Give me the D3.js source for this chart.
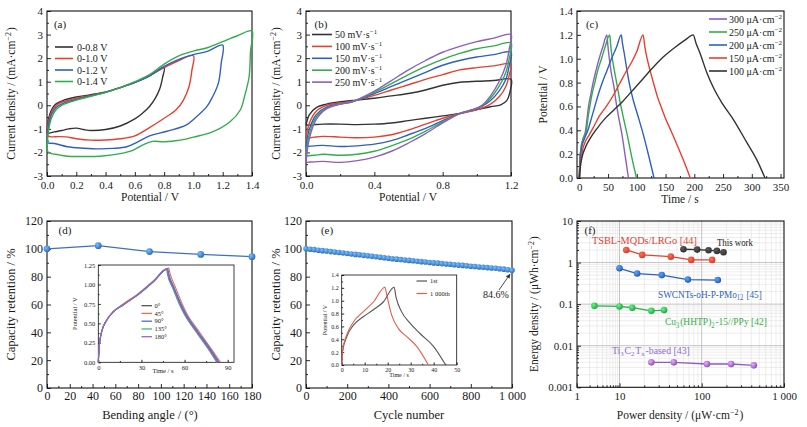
<!DOCTYPE html>
<html>
<head>
<meta charset="utf-8">
<script src="https://cdnjs.cloudflare.com/ajax/libs/d3/7.8.5/d3.min.js"></script>
<style>
  body { margin: 0; background: #fff; }
  text { font-family: "Liberation Serif", "Times New Roman", serif; }
</style>
</head>
<body>
<svg width="807" height="427" id="mainsvg"></svg>
<script>
// ---------- (a) CV at different windows, [V, mA/cm2] ----------
const windowNames = ['0-0.8 V', '0-1.0 V', '0-1.2 V', '0-1.4 V'];
const cv08 = [[0,-1.2],[0.01,-0.6],[0.03,-0.2],[0.06,0.05],[0.1,0.18],[0.2,0.35],[0.3,0.45],[0.4,0.57],[0.5,0.75],[0.6,0.97],[0.7,1.25],[0.8,1.6],
  [0.79,1.2],[0.77,0.7],[0.74,0.3],[0.7,-0.05],[0.65,-0.35],[0.6,-0.58],[0.5,-0.88],[0.4,-1.03],[0.3,-1.07],[0.25,-1.03],[0.2,-0.97],[0.15,-1.0],[0.1,-1.07],[0.05,-1.13],[0,-1.2]];
const cv10 = [[0,-1.3],[0.01,-0.7],[0.03,-0.3],[0.06,-0.02],[0.1,0.12],[0.2,0.3],[0.3,0.42],[0.4,0.55],[0.5,0.75],[0.6,0.97],[0.7,1.25],[0.8,1.6],[0.9,1.9],[1.0,2.1],
  [0.99,1.5],[0.97,0.8],[0.93,0.2],[0.88,-0.2],[0.8,-0.55],[0.7,-0.95],[0.6,-1.3],[0.5,-1.42],[0.4,-1.47],[0.3,-1.48],[0.2,-1.42],[0.13,-1.34],[0.08,-1.33],[0.03,-1.34],[0,-1.3]];
const cv12 = [[0,-1.6],[0.01,-0.9],[0.03,-0.4],[0.06,-0.1],[0.1,0.05],[0.2,0.25],[0.3,0.4],[0.4,0.55],[0.5,0.75],[0.6,0.97],[0.7,1.25],[0.8,1.65],[0.9,1.95],[1.0,2.15],[1.1,2.3],[1.2,2.55],
  [1.19,1.8],[1.17,0.93],[1.13,0.35],[1.09,-0.07],[1.0,-0.6],[0.95,-0.84],[0.82,-1.1],[0.7,-1.3],[0.62,-1.55],[0.545,-1.76],[0.45,-1.83],[0.36,-1.85],[0.25,-1.82],[0.14,-1.76],[0.05,-1.62],[0,-1.6]];
const cv14 = [[0,-1.95],[0.01,-1.1],[0.03,-0.55],[0.06,-0.2],[0.1,0],[0.2,0.22],[0.3,0.38],[0.4,0.55],[0.5,0.75],[0.6,1.0],[0.7,1.3],[0.8,1.75],[0.9,2.1],[1.0,2.3],[1.1,2.45],[1.2,2.7],[1.3,2.95],[1.4,3.15],
  [1.39,2.3],[1.38,1.2],[1.35,0.4],[1.32,-0.2],[1.25,-0.7],[1.13,-1.13],[1.0,-1.35],[0.91,-1.48],[0.8,-1.55],[0.72,-1.53],[0.65,-1.7],[0.59,-1.9],[0.5,-2.05],[0.36,-2.16],[0.25,-2.17],[0.14,-2.16],[0.06,-2.08],[0.03,-2.05],[0,-1.95]];

// ---------- (b) CV at scan rates ----------
const rateNames = ['50', '100', '150', '200', '250'];
const cv50 = [[0,-0.85],[0.02,-0.4],[0.06,-0.1],[0.12,0.05],[0.2,0.15],[0.27,0.2],[0.4,0.3],[0.5,0.4],[0.6,0.5],[0.7,0.65],[0.8,0.85],[0.9,0.98],[1.0,1.02],[1.1,1.05],[1.2,1.1],
  [1.195,0.6],[1.175,0.2],[1.14,0.02],[1.08,-0.06],[1.0,-0.18],[0.9,-0.35],[0.8,-0.45],[0.7,-0.55],[0.6,-0.65],[0.5,-0.75],[0.4,-0.8],[0.3,-0.82],[0.2,-0.8],[0.1,-0.8],[0.05,-0.82],[0,-0.85]];
const cv100 = [[0,-1.4],[0.02,-0.75],[0.06,-0.25],[0.12,0.0],[0.2,0.1],[0.27,0.17],[0.4,0.42],[0.5,0.65],[0.6,0.87],[0.7,1.1],[0.8,1.3],[0.9,1.5],[1.0,1.6],[1.1,1.67],[1.2,1.75],
  [1.19,1.3],[1.17,0.8],[1.13,0.35],[1.08,0.05],[1.03,-0.12],[0.97,-0.25],[0.9,-0.35],[0.8,-0.55],[0.7,-0.8],[0.6,-1.05],[0.5,-1.25],[0.4,-1.35],[0.3,-1.38],[0.2,-1.35],[0.1,-1.32],[0.05,-1.35],[0,-1.4]];
const cv150 = [[0,-1.75],[0.02,-1.0],[0.06,-0.4],[0.12,-0.08],[0.2,0.06],[0.27,0.15],[0.4,0.5],[0.5,0.8],[0.6,1.1],[0.7,1.4],[0.8,1.7],[0.9,1.9],[1.0,2.05],[1.1,2.15],[1.2,2.25],
  [1.19,1.7],[1.17,1.1],[1.13,0.6],[1.08,0.2],[1.03,-0.05],[0.97,-0.2],[0.9,-0.35],[0.8,-0.65],[0.7,-0.98],[0.6,-1.25],[0.5,-1.5],[0.4,-1.65],[0.3,-1.72],[0.2,-1.75],[0.1,-1.7],[0.05,-1.72],[0,-1.75]];
const cv200 = [[0,-2.15],[0.02,-1.2],[0.06,-0.5],[0.12,-0.12],[0.2,0.05],[0.27,0.15],[0.4,0.55],[0.5,0.92],[0.6,1.3],[0.7,1.65],[0.8,1.95],[0.9,2.2],[1.0,2.4],[1.1,2.52],[1.2,2.65],
  [1.19,2.0],[1.17,1.4],[1.13,0.8],[1.08,0.3],[1.03,-0.02],[0.97,-0.2],[0.9,-0.35],[0.8,-0.7],[0.7,-1.1],[0.6,-1.45],[0.5,-1.72],[0.4,-1.95],[0.3,-2.08],[0.2,-2.12],[0.1,-2.08],[0.05,-2.12],[0,-2.15]];
const cv250 = [[0,-2.42],[0.02,-1.4],[0.06,-0.6],[0.12,-0.15],[0.2,0.05],[0.27,0.15],[0.4,0.6],[0.5,1.05],[0.6,1.5],[0.7,1.9],[0.8,2.25],[0.9,2.5],[1.0,2.7],[1.1,2.85],[1.2,3.0],
  [1.19,2.4],[1.17,1.7],[1.13,1.0],[1.08,0.4],[1.03,0.0],[0.97,-0.2],[0.9,-0.35],[0.8,-0.75],[0.7,-1.2],[0.6,-1.6],[0.5,-1.95],[0.4,-2.2],[0.3,-2.35],[0.2,-2.42],[0.1,-2.38],[0.05,-2.4],[0,-2.42]];

// ---------- (c) GCD curves [s, V] ----------
const currentNames = ['300', '250', '200', '150', '100'];
const gcd300 = [[0,0],[1,0.15],[3,0.25],[6.5,0.33],[11,0.4],[13.5,0.5],[16,0.6],[20,0.7],[24,0.8],[29,0.9],[34.5,1.0],[41,1.1],[48,1.2],
  [49.5,1.12],[51,1.05],[55,0.9],[60,0.77],[63.5,0.65],[68,0.52],[74,0.37],[80,0.18],[85.5,0]];
const gcd250 = [[0,0],[1,0.15],[3,0.25],[7,0.33],[12.5,0.4],[15,0.5],[18.3,0.6],[22,0.7],[27,0.8],[32,0.9],[38.6,1.0],[45,1.1],[53,1.2],
  [54.5,1.12],[56,1.05],[61,0.9],[66,0.77],[70.4,0.65],[76,0.52],[83,0.37],[91,0.18],[99.5,0]];
const gcd200 = [[0,0],[1.5,0.15],[4,0.25],[9,0.33],[15,0.4],[21,0.5],[27,0.6],[33,0.7],[40,0.8],[48,0.9],[56,1.0],[65,1.1],[73,1.2],
  [75,1.13],[78,1.05],[83,0.9],[88,0.77],[94,0.65],[102,0.52],[111,0.37],[121,0.18],[130,0]];
const gcd150 = [[0,0],[2,0.12],[5,0.22],[10,0.3],[17,0.36],[24,0.42],[35,0.52],[47,0.6],[60,0.7],[70,0.79],[80,0.88],[91,0.97],[100,1.06],[111,1.2],
  [114,1.1],[118,1.0],[122.6,0.91],[130,0.78],[136,0.68],[142,0.6],[149,0.51],[160,0.39],[169,0.29],[181,0.15],[193,0]];
const gcd100 = [[0,0],[2,0.1],[5,0.18],[10,0.25],[20,0.34],[30,0.41],[45,0.5],[60,0.57],[75,0.64],[90,0.72],[105,0.8],[125,0.91],[145,1.01],[165,1.09],[185,1.16],[198,1.2],
  [203,1.13],[210,1.045],[222,0.88],[234,0.75],[248,0.63],[268,0.49],[291,0.30],[309,0.15],[323,0]];

// ---------- (d) bending ----------
const bendAngles = [0, 45, 90, 135, 180];
const bendRetention = [100, 102.3, 98, 96, 94.4];
const bendNames = ['0°', '45°', '90°', '135°', '180°'];
const bend0 = [[0,0],[0.7,0.22],[2.3,0.39],[5.8,0.54],[10.5,0.65],[17.5,0.74],[27,0.86],[38.6,1.04],[48,1.2],[48.6,1.14],[52.6,0.95],[57.2,0.74],[60.7,0.61],[68.9,0.39],[78.3,0.14],[83.3,0]];
const bend45 = [[0,0],[0.7,0.22],[2.3,0.39],[5.8,0.54],[10.5,0.65],[17.5,0.75],[27,0.87],[38.6,1.05],[49,1.21],[49.8,1.15],[54,0.95],[58.6,0.74],[62,0.61],[70.3,0.39],[79.8,0.14],[85,0]];
const bend90 = [[0,0],[0.7,0.22],[2.3,0.39],[5.8,0.54],[10.5,0.65],[17.5,0.74],[27,0.86],[38.6,1.04],[48.3,1.2],[49,1.14],[53,0.95],[57.8,0.74],[61.3,0.61],[69.5,0.39],[79,0.14],[84,0]];
const bend135 = [[0,0],[0.7,0.22],[2.3,0.39],[5.8,0.54],[10.5,0.65],[17.5,0.75],[27,0.87],[38.6,1.05],[47.5,1.2],[48,1.14],[51.8,0.95],[56.5,0.74],[60,0.61],[68,0.39],[77.6,0.14],[82.4,0]];
const bend180 = [[0,0],[0.7,0.22],[2.3,0.39],[5.8,0.54],[10.5,0.65],[17.5,0.74],[27,0.86],[38.6,1.04],[47.8,1.2],[48.3,1.14],[52.2,0.95],[56.9,0.74],[60.4,0.61],[68.5,0.39],[78,0.14],[82.8,0]];

// ---------- (e) cycling ----------
const cycleNumbers = [0,20,40,60,80,100,120,140,160,180,200,220,240,260,280,300,320,340,360,380,400,420,440,460,480,500,
  520,540,560,580,600,620,640,660,680,700,720,740,760,780,800,820,840,860,880,900,920,940,960,980,1000];
const cycleRetention = [100.0,99.7,99.4,99.0,98.7,98.4,98.0,97.7,97.4,97.0,96.7,96.3,96.0,95.7,95.3,95.0,94.6,94.3,93.9,93.6,93.2,
  92.9,92.6,92.3,92.0,91.7,91.4,91.1,90.8,90.5,90.2,89.9,89.7,89.4,89.1,88.9,88.6,88.3,88.1,87.8,87.5,87.3,87.0,86.8,86.5,86.2,86.0,85.7,85.4,85.0,84.6];
const cycleFirst = [[0,0],[0.4,0.21],[2.2,0.44],[5.1,0.62],[9.4,0.75],[13.8,0.86],[18.1,0.98],[22.8,1.21],[23.6,1.06],[26,0.83],[29.7,0.65],[34,0.49],[39.9,0.29],[45.2,0]];
const cycleLast = [[0,0],[0.4,0.23],[2.2,0.47],[5.1,0.67],[9.4,0.83],[13.8,0.98],[18.8,1.21],[19.6,1.09],[21.7,0.78],[24.6,0.57],[28.3,0.44],[32.6,0.29],[37.7,0]];

// ---------- (f) Ragone ----------
const ragoneNames = ['This work', 'TSBL-MQDs/LRGo [44]', 'SWCNTs-oH-P-PMo12 [45]', 'Cu3(HHTP)2-15//PPy [42]', 'Ti3C2Tx-based [43]'];
const powerThis = [60, 88, 121, 153, 184],     energyThis = [2.09, 2.05, 1.98, 1.91, 1.77];
const powerTsbl = [12.1, 18.9, 42.1, 74.6, 134], energyTsbl = [2.01, 1.53, 1.39, 1.16, 1.16];
const powerSwc  = [10, 16.4, 32.7, 68, 157],   energySwc  = [0.73, 0.545, 0.50, 0.39, 0.38];
const powerCu   = [2.6, 10, 14.3, 24.4, 34.9], energyCu   = [0.091, 0.088, 0.082, 0.069, 0.072];
const powerTi   = [24.4, 45.8, 116, 228, 430], energyTi   = [0.00398, 0.00398, 0.00363, 0.00363, 0.00337];

// ================= drawing =================
const svg = d3.select('#mainsvg');
const col = {black: '#333333', red: '#e8402f', blue: '#2f5fc4', green: '#2fae4a', purple: '#8c5ec4', grey: '#555555'};
const ballBlue = '#3d6fc9';

const defs = svg.append('defs');
function ball(id, c) {
  const gr = defs.append('radialGradient').attr('id', id).attr('cx', '35%').attr('cy', '35%').attr('r', '70%');
  gr.append('stop').attr('offset', '0%').attr('stop-color', d3.color(c).brighter(1.6));
  gr.append('stop').attr('offset', '100%').attr('stop-color', d3.color(c).darker(0.3));
}
ball('b-blue', ballBlue); ball('b-black', col.black); ball('b-red', col.red);
ball('b-sblue', col.blue); ball('b-green', col.green); ball('b-purple', col.purple);
defs.append('marker').attr('id', 'arrow').attr('viewBox', '0 0 10 10').attr('refX', 9).attr('refY', 5)
  .attr('markerWidth', 5).attr('markerHeight', 5).attr('orient', 'auto')
  .append('path').attr('d', 'M0,0 L10,5 L0,10 z').attr('fill', '#333');

// axes with inward ticks + minor ticks, then a closed frame
function axes(b, x, y, o) {
  const g = svg.append('g');
  const fs = o.fs || 11, tk = o.tk || 4;
  const style = sel => {
    sel.attr('font-size', fs).select('.domain').remove();
    sel.selectAll('line').attr('stroke', '#111').attr('stroke-width', 0.9);
    sel.selectAll('text').attr('fill', '#1a1a1a');
  };
  g.append('g').attr('transform', `translate(0,${b.b})`)
    .call(d3.axisBottom(x).tickValues(o.xt).tickSize(-tk).tickPadding(o.xpad || o.pad || 5).tickFormat(o.xf)).call(style);
  g.append('g').attr('transform', `translate(${b.l},0)`)
    .call(d3.axisLeft(y).tickValues(o.yt).tickSize(-tk).tickPadding(o.pad || 4).tickFormat(o.yf)).call(style);
  if (o.xm) g.append('g').attr('transform', `translate(0,${b.b})`)
    .call(d3.axisBottom(x).tickValues(o.xm).tickSize(-tk / 2).tickFormat('')).call(style);
  if (o.ym) g.append('g').attr('transform', `translate(${b.l},0)`)
    .call(d3.axisLeft(y).tickValues(o.ym).tickSize(-tk / 2).tickFormat('')).call(style);
  g.append('rect').attr('x', b.l).attr('y', b.t).attr('width', b.r - b.l).attr('height', b.b - b.t)
    .attr('fill', 'none').attr('stroke', '#111').attr('stroke-width', o.sw || 1.1);
  return g;
}

function curve(x, y, pts, color, w, cv) {
  svg.append('path').datum(pts).attr('fill', 'none').attr('stroke', color).attr('stroke-width', w || 1.4)
    .attr('stroke-linejoin', 'round')
    .attr('d', d3.line().x(d => x(d[0])).y(d => y(d[1])).curve(cv || d3.curveCatmullRom.alpha(0.5)));
}

function label(x, y, txt, o = {}) {
  const t = svg.append('text').attr('x', x).attr('y', y).attr('font-size', o.fs || 11)
    .attr('fill', o.fill || '#1a1a1a').attr('text-anchor', o.anchor || 'middle');
  // parts: plain strings or {sup:..}/{sub:..}
  (Array.isArray(txt) ? txt : [txt]).forEach(p => {
    if (typeof p === 'string') t.append('tspan').text(p);
    else if (p.sup) { t.append('tspan').attr('dy', -4).attr('font-size', (o.fs || 11) * 0.7).text(p.sup); t.append('tspan').attr('dy', 4).text('\u200a'); }
    else if (p.sub) { t.append('tspan').attr('dy', 2.5).attr('font-size', (o.fs || 11) * 0.7).text(p.sub); t.append('tspan').attr('dy', -2.5).text('\u200a'); }
  });
  if (o.rot) t.attr('transform', `rotate(-90,${x},${y})`);
  if (o.len) {
    // squeeze horizontally to the width the label has in the figure
    const s = Math.min(1, o.len / t.node().getBBox().width);
    t.attr('transform', `translate(${x},0) scale(${s},1) translate(${-x},0)`);
  }
  return t;
}

const f1 = d3.format('.1f'), f2 = d3.format('.2f');
const thou = d => d === 1000 ? '1 000' : String(d);

// ---------- panel (a) ----------
{
  const b = {l: 47, t: 11, r: 252, b: 176};
  const x = d3.scaleLinear().domain([0, 1.4]).range([b.l, b.r]);
  const y = d3.scaleLinear().domain([-3, 4]).range([b.b, b.t]);
  axes(b, x, y, {xt: [0,0.2,0.4,0.6,0.8,1.0,1.2,1.4], xf: f1, xm: [0.1,0.3,0.5,0.7,0.9,1.1,1.3],
    yt: [-3,-2,-1,0,1,2,3,4], yf: d => d, ym: [-2.5,-1.5,-0.5,0.5,1.5,2.5,3.5]});
  const series = [cv08, cv10, cv12, cv14], colors = [col.black, col.red, col.blue, col.green];
  series.forEach((s, i) => curve(x, y, s, colors[i]));
  windowNames.forEach((n, i) => {
    const yy = 47 + i * 11.5;
    svg.append('line').attr('x1', 55).attr('x2', 73).attr('y1', yy).attr('y2', yy).attr('stroke', colors[i]).attr('stroke-width', 1.6);
    label(77, yy + 3.5, n, {fs: 10, anchor: 'start'});
  });
  label(60, 28, '(a)', {fs: 11});
  label(150, 201, 'Potential / V', {fs: 11.5});
  label(15, 93.5, ['Current density / (mA\u00b7cm', {sup: '\u22122'}, ')'], {fs: 11.5, rot: true});
}

// ---------- panel (b) ----------
{
  const b = {l: 306, t: 11, r: 511, b: 176};
  const x = d3.scaleLinear().domain([0, 1.2]).range([b.l, b.r]);
  const y = d3.scaleLinear().domain([-3, 4]).range([b.b, b.t]);
  axes(b, x, y, {xt: [0,0.4,0.8,1.2], xf: f1, xm: [0.2,0.6,1.0],
    yt: [-3,-2,-1,0,1,2,3,4], yf: d => d, ym: [-2.5,-1.5,-0.5,0.5,1.5,2.5,3.5]});
  const series = [cv50, cv100, cv150, cv200, cv250], colors = [col.black, col.red, col.blue, col.green, col.purple];
  series.forEach((s, i) => curve(x, y, s, colors[i]));
  rateNames.forEach((n, i) => {
    const yy = 34.5 + i * 11.9;
    svg.append('line').attr('x1', 312).attr('x2', 332).attr('y1', yy).attr('y2', yy).attr('stroke', colors[i]).attr('stroke-width', 1.6);
    label(335, yy + 3.5, [n + ' mV\u00b7s', {sup: '\u22121'}], {fs: 10, anchor: 'start'});
  });
  label(321, 28, '(b)', {fs: 11});
  label(408, 201, 'Potential / V', {fs: 11.5});
  label(280, 93.5, ['Current density / (mA\u00b7cm', {sup: '\u22122'}, ')'], {fs: 11.5, rot: true});
}

// ---------- panel (c) ----------
{
  const b = {l: 577, t: 11, r: 784, b: 178};
  const x = d3.scaleLinear().domain([-4, 356]).range([b.l, b.r]);
  const y = d3.scaleLinear().domain([0, 1.4]).range([b.b, b.t]);
  axes(b, x, y, {xt: [0,50,100,150,200,250,300,350], xf: d => d, xm: [25,75,125,175,225,275,325],
    yt: [0,0.2,0.4,0.6,0.8,1.0,1.2,1.4], yf: f1, ym: [0.1,0.3,0.5,0.7,0.9,1.1,1.3]});
  const series = [gcd300, gcd250, gcd200, gcd150, gcd100], colors = [col.purple, col.green, col.blue, col.red, col.black];
  series.forEach((s, i) => curve(x, y, s, colors[i], 1.4, d3.curveMonotoneX));
  currentNames.forEach((n, i) => {
    const yy = 19 + i * 13;
    svg.append('line').attr('x1', 709).attr('x2', 727).attr('y1', yy).attr('y2', yy).attr('stroke', colors[i]).attr('stroke-width', 1.6);
    label(729, yy + 3.5, [n + ' \u03bcA\u00b7cm', {sup: '\u22122'}], {fs: 10, anchor: 'start'});
  });
  label(592, 28, '(c)', {fs: 11});
  label(680, 203, 'Time / s', {fs: 11.5});
  label(547, 94.5, 'Potential / V', {fs: 11.5, rot: true});
}

// ---------- panel (d) ----------
{
  const b = {l: 47, t: 221, r: 252, b: 388};
  const x = d3.scaleLinear().domain([0, 180]).range([b.l, b.r]);
  const y = d3.scaleLinear().domain([0, 120]).range([b.b, b.t]);
  axes(b, x, y, {fs: 12, xpad: 3, xt: d3.range(0, 181, 20), xf: d => d, xm: d3.range(10, 180, 20),
    yt: d3.range(0, 121, 20), yf: d => d, ym: d3.range(10, 120, 20)});
  const pts = bendAngles.map((a, i) => [a, bendRetention[i]]);
  curve(x, y, pts, ballBlue, 1.4, d3.curveLinear);
  svg.append('g').selectAll('circle').data(pts).join('circle')
    .attr('cx', d => x(d[0])).attr('cy', d => y(d[1])).attr('r', 3.4).attr('fill', 'url(#b-blue)');
  label(65, 234, '(d)', {fs: 11});
  label(150, 418.5, 'Bending angle / (\u00b0)', {fs: 12.5});
  label(15, 304.5, 'Capacity retention / %', {fs: 12.5, rot: true});

  // inset
  const ib = {l: 98.3, t: 265, r: 234, b: 362.3};
  svg.append('rect').attr('x', ib.l).attr('y', ib.t).attr('width', ib.r - ib.l).attr('height', ib.b - ib.t).attr('fill', '#fff');
  const ix = d3.scaleLinear().domain([0, 94.4]).range([ib.l, ib.r]);
  const iy = d3.scaleLinear().domain([0, 1.25]).range([ib.b, ib.t]);
  axes(ib, ix, iy, {fs: 6.5, tk: 2.5, pad: 3, sw: 0.8, xt: [0,30,60,90], xf: d => d, xm: [15,45,75],
    yt: [0,0.25,0.5,0.75,1.0,1.25], yf: f2, ym: [0.125,0.375,0.625,0.875,1.125]});
  const iser = [bend0, bend45, bend90, bend135, bend180];
  const icol = [col.grey, '#ec6b55', '#4a6fd0', '#3cbf6a', '#9468c8'];
  [3, 0, 1, 2, 4].forEach(i => curve(ix, iy, iser[i], icol[i], 1.1, d3.curveMonotoneX));
  bendNames.forEach((n, i) => {
    const yy = 305.7 + i * 7.75;
    svg.append('line').attr('x1', 141.5).attr('x2', 152).attr('y1', yy).attr('y2', yy).attr('stroke', icol[i]).attr('stroke-width', 1.3);
    label(154.5, yy + 2.2, n, {fs: 6.5, anchor: 'start'});
  });
  label(163, 373, 'Time / s', {fs: 6.5});
  label(77, 313.6, 'Potential / V', {fs: 6.5, rot: true});
}

// ---------- panel (e) ----------
{
  const b = {l: 306, t: 221, r: 512, b: 388};
  const x = d3.scaleLinear().domain([0, 1000]).range([b.l, b.r]);
  const y = d3.scaleLinear().domain([0, 120]).range([b.b, b.t]);
  axes(b, x, y, {fs: 12, xpad: 3, xt: [0,200,400,600,800,1000], xf: thou, xm: [100,300,500,700,900],
    yt: d3.range(0, 121, 20), yf: d => d, ym: d3.range(10, 120, 20)});
  const pts = cycleNumbers.map((c, i) => [c, cycleRetention[i]]);
  curve(x, y, pts, ballBlue, 1.2, d3.curveLinear);
  svg.append('g').selectAll('circle').data(pts).join('circle')
    .attr('cx', d => x(d[0])).attr('cy', d => y(d[1])).attr('r', 2.8).attr('fill', 'url(#b-blue)');
  svg.append('line').attr('x1', 499).attr('y1', 290).attr('x2', x(1000) - 2).attr('y2', y(84.6) + 4)
    .attr('stroke', '#333').attr('stroke-width', 0.9).attr('marker-end', 'url(#arrow)');
  label(496, 298, '84.6%', {fs: 10});
  label(327, 234, '(e)', {fs: 11});
  label(409, 418.5, 'Cycle number', {fs: 12.5});
  label(280, 304.5, 'Capacity retention / %', {fs: 12.5, rot: true});

  // inset
  const ib = {l: 341.7, t: 275, r: 456.7, b: 365};
  svg.append('rect').attr('x', ib.l).attr('y', ib.t).attr('width', ib.r - ib.l).attr('height', ib.b - ib.t).attr('fill', '#fff');
  const ix = d3.scaleLinear().domain([0, 50]).range([ib.l, ib.r]);
  const iy = d3.scaleLinear().domain([0, 1.4]).range([ib.b, ib.t]);
  axes(ib, ix, iy, {fs: 6, tk: 2.5, pad: 3, sw: 0.8, xt: [0,10,20,30,40,50], xf: d => d, xm: [5,15,25,35,45],
    yt: [0,0.2,0.4,0.6,0.8,1.0,1.2,1.4], yf: f1, ym: [0.1,0.3,0.5,0.7,0.9,1.1,1.3]});
  curve(ix, iy, cycleFirst, col.grey, 1.1, d3.curveMonotoneX);
  curve(ix, iy, cycleLast, '#ee5a45', 1.1, d3.curveMonotoneX);
  [['1st', col.grey], ['1 000th', '#ee5a45']].forEach((d, i) => {
    const yy = 281 + i * 12.5;
    svg.append('line').attr('x1', 416.5).attr('x2', 427).attr('y1', yy).attr('y2', yy).attr('stroke', d[1]).attr('stroke-width', 1.2);
    label(430, yy + 2.2, d[0], {fs: 6.5, anchor: 'start'});
  });
  label(399, 376.5, 'Time / s', {fs: 6});
  label(327, 320, 'Potential / V', {fs: 6, rot: true});
}

// ---------- panel (f) ----------
{
  const b = {l: 577, t: 221, r: 784, b: 387.3};
  // the figure's first decade is drawn narrower than the others -> piecewise log scale
  const x = d3.scaleLog().domain([1, 10, 100, 1000]).range([576.7, 619.5, 701.7, 784]);
  const y = d3.scaleLog().domain([0.001, 10]).range([b.b, b.t]);
  const decades = (lo, n) => d3.range(n).flatMap(k => [2,3,4,5,6,7,8,9].map(m => m * lo * Math.pow(10, k)));
  const xMinor = decades(1, 3), yMinor = decades(0.001, 4);
  const grid = svg.append('g');
  grid.selectAll('.vm').data(xMinor).join('line').attr('x1', x).attr('x2', x).attr('y1', b.t).attr('y2', b.b)
    .attr('stroke', '#e0e0e0').attr('stroke-width', 0.6);
  grid.selectAll('.hm').data(yMinor).join('line').attr('y1', y).attr('y2', y).attr('x1', b.l).attr('x2', b.r)
    .attr('stroke', '#e0e0e0').attr('stroke-width', 0.6);
  grid.selectAll('.vM').data([10, 100]).join('line').attr('x1', x).attr('x2', x).attr('y1', b.t).attr('y2', b.b)
    .attr('stroke', '#b5b5b5').attr('stroke-width', 0.8);
  grid.selectAll('.hM').data([0.01, 0.1, 1]).join('line').attr('y1', y).attr('y2', y).attr('x1', b.l).attr('x2', b.r)
    .attr('stroke', '#b5b5b5').attr('stroke-width', 0.8);
  axes(b, x, y, {xt: [1,10,100,1000], xf: thou, xm: xMinor,
    yt: [0.001,0.01,0.1,1,10], yf: d => d >= 1 ? String(d) : d3.format('')(d), ym: yMinor});

  const sets = [
    [powerTi, energyTi, col.purple, 'b-purple'],
    [powerCu, energyCu, col.green, 'b-green'],
    [powerSwc, energySwc, col.blue, 'b-sblue'],
    [powerTsbl, energyTsbl, col.red, 'b-red'],
    [powerThis, energyThis, col.black, 'b-black']
  ];
  sets.forEach(([px, ey, c, grad]) => {
    const pts = px.map((p, i) => [p, ey[i]]);
    curve(x, y, pts, c, 1.3, d3.curveLinear);
    svg.append('g').selectAll('circle').data(pts).join('circle')
      .attr('cx', d => x(d[0])).attr('cy', d => y(d[1])).attr('r', 3.3).attr('fill', `url(#${grad})`);
  });
  label(717, 246, ragoneNames[0], {fs: 10, anchor: 'start', fill: '#222', len: 36});
  label(592, 244, ragoneNames[1], {fs: 10.5, anchor: 'start', fill: col.red, len: 105});
  label(658, 298, ['SWCNTs-oH-P-PMo', {sub: '12'}, ' [45]'], {fs: 10.5, anchor: 'start', fill: col.blue, len: 104});
  label(665, 325.5, ['Cu', {sub: '3'}, '(HHTP)', {sub: '2'}, '-15//PPy [42]'], {fs: 10.5, anchor: 'start', fill: '#3aae4a', len: 102});
  label(612, 354, ['Ti', {sub: '3'}, 'C', {sub: '2'}, 'T', {sub: 'x'}, '-based [43]'], {fs: 10, anchor: 'start', fill: '#9070c8', len: 78});
  label(590, 234, '(f)', {fs: 11});
  label(680, 418.5, ['Power density / (\u03bcW\u00b7cm', {sup: '\u22122'}, ')'], {fs: 11.5});
  label(538, 304, ['Energy density / (\u03bcWh\u00b7cm', {sup: '\u22122'}, ')'], {fs: 11.5, rot: true});
}
</script>
</body>
</html>
